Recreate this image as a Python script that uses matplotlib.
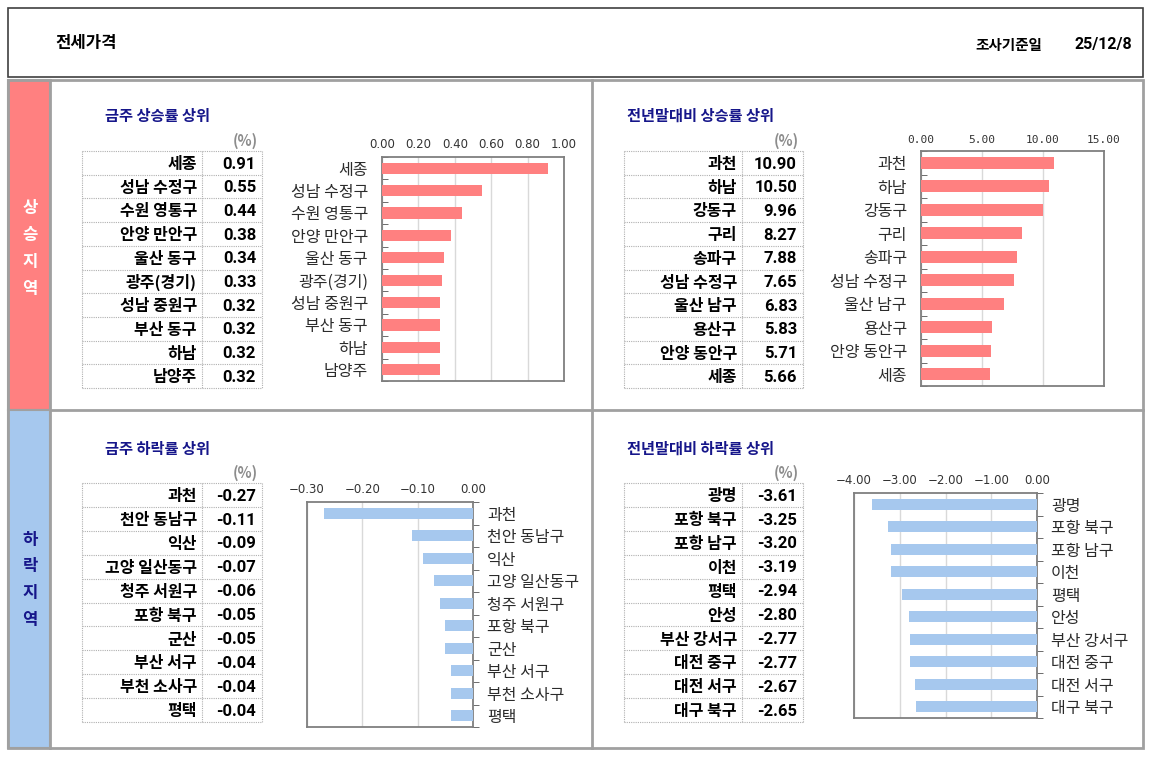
import numpy as np
import matplotlib
matplotlib.use('Agg')
import matplotlib.pyplot as plt
from matplotlib.patches import Rectangle
from matplotlib.lines import Line2D

plt.rcParams['font.family'] = ['Noto Sans CJK KR', 'DejaVu Sans']

W, H = 1150, 760

# data
up_week_names = ['세종', '성남 수정구', '수원 영통구', '안양 만안구', '울산 동구',
                 '광주(경기)', '성남 중원구', '부산 동구', '하남', '남양주']
up_week_vals = [0.91, 0.55, 0.44, 0.38, 0.34, 0.33, 0.32, 0.32, 0.32, 0.32]

up_year_names = ['과천', '하남', '강동구', '구리', '송파구',
                 '성남 수정구', '울산 남구', '용산구', '안양 동안구', '세종']
up_year_vals = [10.90, 10.50, 9.96, 8.27, 7.88, 7.65, 6.83, 5.83, 5.71, 5.66]

down_week_names = ['과천', '천안 동남구', '익산', '고양 일산동구', '청주 서원구',
                   '포항 북구', '군산', '부산 서구', '부천 소사구', '평택']
down_week_vals = [-0.27, -0.11, -0.09, -0.07, -0.06, -0.05, -0.05, -0.04, -0.04, -0.04]

down_year_names = ['광명', '포항 북구', '포항 남구', '이천', '평택',
                   '안성', '부산 강서구', '대전 중구', '대전 서구', '대구 북구']
down_year_vals = [-3.61, -3.25, -3.20, -3.19, -2.94, -2.80, -2.77, -2.77, -2.67, -2.65]

up_week_ticks = [0.0, 0.2, 0.4, 0.6, 0.8, 1.0]
up_year_ticks = [0.0, 5.0, 10.0, 15.0]
down_week_ticks = [-0.3, -0.2, -0.1, 0.0]
down_year_ticks = [-4.0, -3.0, -2.0, -1.0, 0.0]

RED = '#ff8080'
BLUE = '#a6c8ee'
NAVY = '#16168a'
GRAY = '#a0a0a0'

fig = plt.figure(figsize=(W / 100, H / 100), dpi=100)


def fx(x):
    return x / W


def fy(y):
    return 1 - y / H


def px_ax(x0, y0, x1, y1):
    return fig.add_axes([fx(x0), fy(y1), (x1 - x0) / W, (y1 - y0) / H])


def box(x0, y0, x1, y1, fc='none', ec=GRAY, lw=1.5, z=1):
    fig.patches.append(Rectangle((fx(x0), fy(y1)), (x1 - x0) / W, (y1 - y0) / H,
                                 transform=fig.transFigure, fc=fc, ec=ec, lw=lw, zorder=z))


def fline(x0, y0, x1, y1, color=GRAY, lw=2):
    fig.lines.append(Line2D([fx(x0), fx(x1)], [fy(y0), fy(y1)],
                            transform=fig.transFigure, color=color, lw=lw))


# header
box(8, 8, 1143, 77, ec='#404040', lw=1.2)
fig.text(fx(55), fy(43), '전세가격', fontsize=12, fontweight='bold', va='center')
fig.text(fx(1042), fy(45), '조사기준일', fontsize=10.5, fontweight='bold', va='center', ha='right')
fig.text(fx(1132), fy(45), '25/12/8', fontsize=11.5, fontweight='bold', va='center', ha='right',
         family=['Roboto', 'DejaVu Sans'])

# side strips
box(8, 80, 50, 410, fc=RED, ec=GRAY, lw=1.5, z=0)
box(8, 410, 50, 748, fc=BLUE, ec=GRAY, lw=1.5, z=0)
for i, ch in enumerate('상승지역'):
    fig.text(fx(30), fy(208 + i * 27), ch, color='white', fontsize=12,
             fontweight='bold', ha='center', va='center')
for i, ch in enumerate('하락지역'):
    fig.text(fx(30), fy(540 + i * 26.5), ch, color=NAVY, fontsize=12,
             fontweight='bold', ha='center', va='center')

# panel borders
box(8, 80, 1143, 748, ec=GRAY, lw=2)
fline(50, 80, 50, 748)
fline(592, 80, 592, 748)
fline(50, 410, 1143, 410)


def table(x0, y0, x1, y1, xdiv, names, vals):
    ax = px_ax(x0, y0, x1, y1)
    ax.set_xlim(x0, x1)
    ax.set_ylim(len(names), 0)
    ax.axis('off')
    for r in range(len(names) + 1):
        ax.plot([x0, x1], [r, r], color='#b0b0b0', lw=0.8, ls=(0, (1, 1)), clip_on=False)
    for x in (x0, xdiv, x1):
        ax.plot([x, x], [0, len(names)], color='#b0b0b0', lw=0.8, ls=(0, (1, 1)), clip_on=False)
    for r, (n, v) in enumerate(zip(names, vals)):
        ax.text(xdiv - 5, r + 0.55, n, ha='right', va='center', fontsize=11.5, fontweight='bold')
        ax.text(x1 - 6, r + 0.55, f'{v:.2f}', ha='right', va='center', fontsize=12,
                fontweight='bold', family=['Roboto', 'DejaVu Sans'])
    fig.text(fx(x1 - 4), fy(y0 - 10), '(%)', ha='right', va='center', fontsize=10.5,
             color='#8c8c8c', fontweight='bold')


def bar_chart(x0, y0, x1, y1, names, vals, ticks, color, right=False, mono=False):
    ax = px_ax(x0, y0, x1, y1)
    y = np.arange(len(names))
    ax.barh(y, vals, height=0.5, color=color, zorder=3)
    ax.set_ylim(len(names) - 0.5, -0.5)
    ax.set_xlim(ticks[0], ticks[-1])
    ax.set_xticks(ticks)
    labels = [f'{t:.2f}'.replace('-', '\u2212') for t in ticks]
    if mono:
        ax.set_xticklabels(labels, family='DejaVu Sans Mono', fontsize=8)
    else:
        ax.set_xticklabels(labels, family=['DejaVu Sans'], fontsize=8.5)
    ax.xaxis.tick_top()
    ax.tick_params(axis='x', length=0, pad=4, colors='#333333')
    ax.grid(axis='x', color='#d9d9d9', lw=1, zorder=0)
    ax.set_yticks(y)
    ax.set_yticklabels(names, fontsize=11.5, color='#2b2b2b')
    ax.set_yticks(np.arange(len(names) + 1) - 0.5, minor=True)
    if right:
        ax.yaxis.tick_right()
        ax.tick_params(axis='y', which='minor', length=4, direction='out', color='#555555')
    else:
        ax.tick_params(axis='y', which='minor', length=4, direction='in', color='#555555')
    ax.tick_params(axis='y', which='major', length=0, pad=10)
    for s in ax.spines.values():
        s.set_color('#7f7f7f')
        s.set_linewidth(1.3)
    return ax


# panel titles
fig.text(fx(105), fy(116), '금주 상승률 상위', color=NAVY, fontsize=11, fontweight='bold', va='center')
fig.text(fx(627), fy(116), '전년말대비 상승률 상위', color=NAVY, fontsize=11, fontweight='bold', va='center')
fig.text(fx(105), fy(449), '금주 하락률 상위', color=NAVY, fontsize=11, fontweight='bold', va='center')
fig.text(fx(627), fy(449), '전년말대비 하락률 상위', color=NAVY, fontsize=11, fontweight='bold', va='center')

table(82, 151, 262, 388, 202, up_week_names, up_week_vals)
table(624, 151, 803, 388, 742, up_year_names, up_year_vals)
table(82, 483, 262, 722, 202, down_week_names, down_week_vals)
table(624, 483, 803, 722, 742, down_year_names, down_year_vals)

bar_chart(382, 157, 564, 381, up_week_names, up_week_vals, up_week_ticks, RED)
bar_chart(921, 151, 1104, 386, up_year_names, up_year_vals, up_year_ticks, RED, mono=True)
bar_chart(307, 502, 473, 727, down_week_names, down_week_vals, down_week_ticks, BLUE, right=True)
bar_chart(854, 493, 1037, 718, down_year_names, down_year_vals, down_year_ticks, BLUE, right=True)

plt.savefig('out.png', dpi=100)
